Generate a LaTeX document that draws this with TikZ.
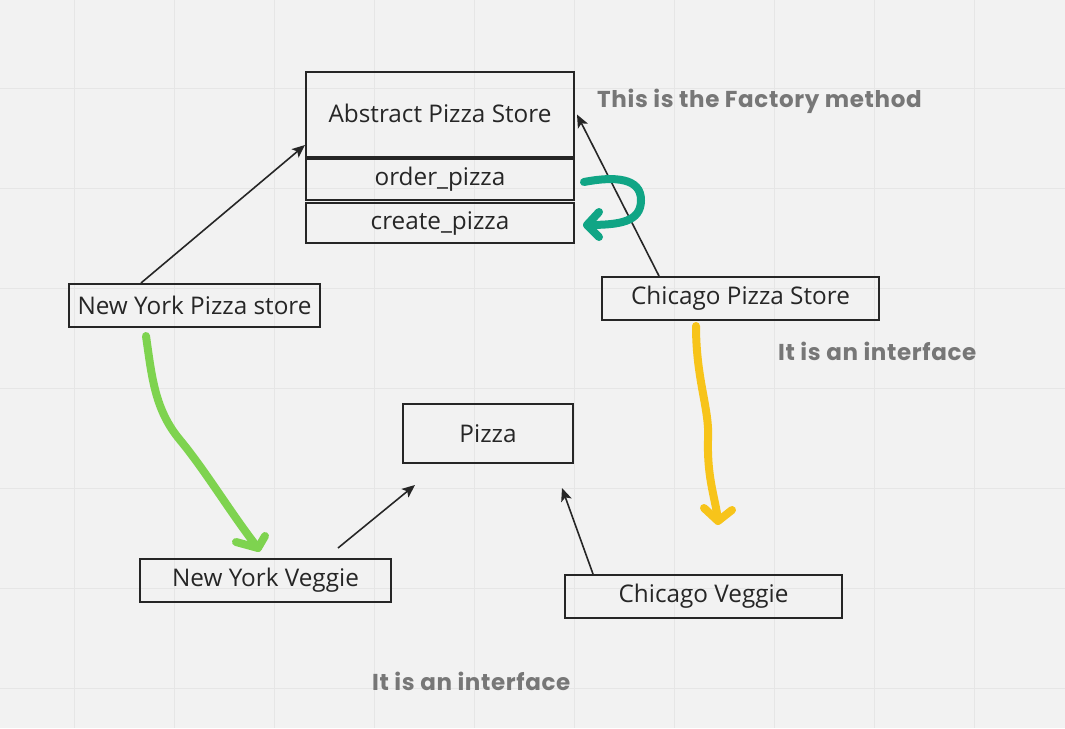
\documentclass[tikz,border=0pt]{standalone}
\usepackage{fontspec}
\setmainfont{Open Sans}
\newfontfamily\annfont{Poppins}[LetterSpace=2.8]
\usetikzlibrary{arrows.meta,calc}
\definecolor{bg}{HTML}{F2F2F2}
\definecolor{gridc}{HTML}{E6E6E6}
\definecolor{ink}{HTML}{262626}
\definecolor{tealc}{HTML}{10A585}
\definecolor{greenc}{HTML}{7ED34F}
\definecolor{yellowc}{HTML}{F7C41A}
\definecolor{notec}{HTML}{777777}
\tikzset{
  box/.style={draw=ink, line width=2pt, inner sep=0pt, text=ink, font=\fontsize{24.3}{28}\selectfont},
  arr/.style={draw=ink, line width=1.6pt, -{Stealth[length=13pt,width=11pt,inset=3pt]}},
  pen/.style={line width=8pt, line cap=round, line join=round},
  note/.style={text=notec, font=\annfont\bfseries\fontsize{23}{27}\selectfont, inner sep=0pt, anchor=west}
}
\begin{document}
\begin{tikzpicture}[x=1pt,y=-1pt]
\fill[bg] (0,0) rectangle (1065,728);
\useasboundingbox (0,0) rectangle (1065,728);
\foreach \gx in {74,174,...,974} \draw[gridc, line width=1pt] (\gx,0) -- (\gx,728);
\foreach \gy in {88,188,...,688} \draw[gridc, line width=1pt] (0,\gy) -- (1065,\gy);

\node[box, minimum width=268pt, minimum height=85pt] (abs) at (440,114.5) {\raisebox{2pt}{Abstract Pizza Store}};
\node[box, minimum width=268pt, minimum height=41pt] (order) at (440,179.5) {order\_pizza};
\node[box, minimum width=268pt, minimum height=40pt] (create) at (440,223) {create\_pizza};
\node[box, minimum width=251pt, minimum height=43pt] (nystore) at (194.5,305.5) {New York Pizza store};
\node[box, minimum width=277pt, minimum height=43pt] (chistore) at (740.5,298.5) {Chicago Pizza Store};
\node[box, minimum width=170pt, minimum height=59pt] (pizza) at (488,433.5) {Pizza};
\node[box, minimum width=251pt, minimum height=43pt] (nyveg) at (265.5,580.5) {New York Veggie};
\node[box, minimum width=277pt, minimum height=43pt] (chiveg) at (703.5,596.5) {Chicago Veggie};

\node[note] (n1) at (597,101) {This is the Factory method};
\node[note] (n2) at (778,351) {It is an interface};
\node[note] (n3) at (372,681) {It is an interface};

\draw[arr] ([xshift=73pt]nystore.north west) -- ([yshift=-30.5pt]abs.west);
\draw[arr] ([xshift=58pt]chistore.north west) -- ([xshift=2pt]abs.east);
\draw[arr] ([xshift=199pt,yshift=10pt]nyveg.north west) -- ([xshift=13pt,yshift=-21pt]pizza.south west);
\draw[arr] ([xshift=29pt]chiveg.north west) -- ([xshift=-12pt,yshift=-24pt]pizza.south east);

% teal hand-drawn arrow
\coordinate (t0) at ([xshift=9pt,yshift=-2.5pt]order.east);
\coordinate (t1) at ([xshift=12pt,yshift=-2pt]create.east);
\draw[pen, tealc] (t0) .. controls (615,176) and (641,178) .. (641,200) .. controls (641,222) and (620,225) .. (t1);
\draw[pen, tealc] (599,212) -- (t1) -- (599,237);

% green hand-drawn arrow
\coordinate (g0) at (146,336);
\coordinate (g1) at (258,548);
\draw[pen, greenc] (g0) .. controls (152,378) and (155,410) .. (180,440) .. controls (205,470) and (232,515) .. (g1);
\draw[pen, greenc] (236,542) -- (g1) -- (265,536);

% yellow hand-drawn arrow
\coordinate (y0) at (696,326);
\coordinate (y1) at (718,521);
\draw[pen, yellowc] (y0) .. controls (696,380) and (710,410) .. (708,440) .. controls (707,480) and (716,500) .. (y1);
\draw[pen, yellowc] (704,508) -- (y1) -- (732,510);
\end{tikzpicture}
\end{document}
